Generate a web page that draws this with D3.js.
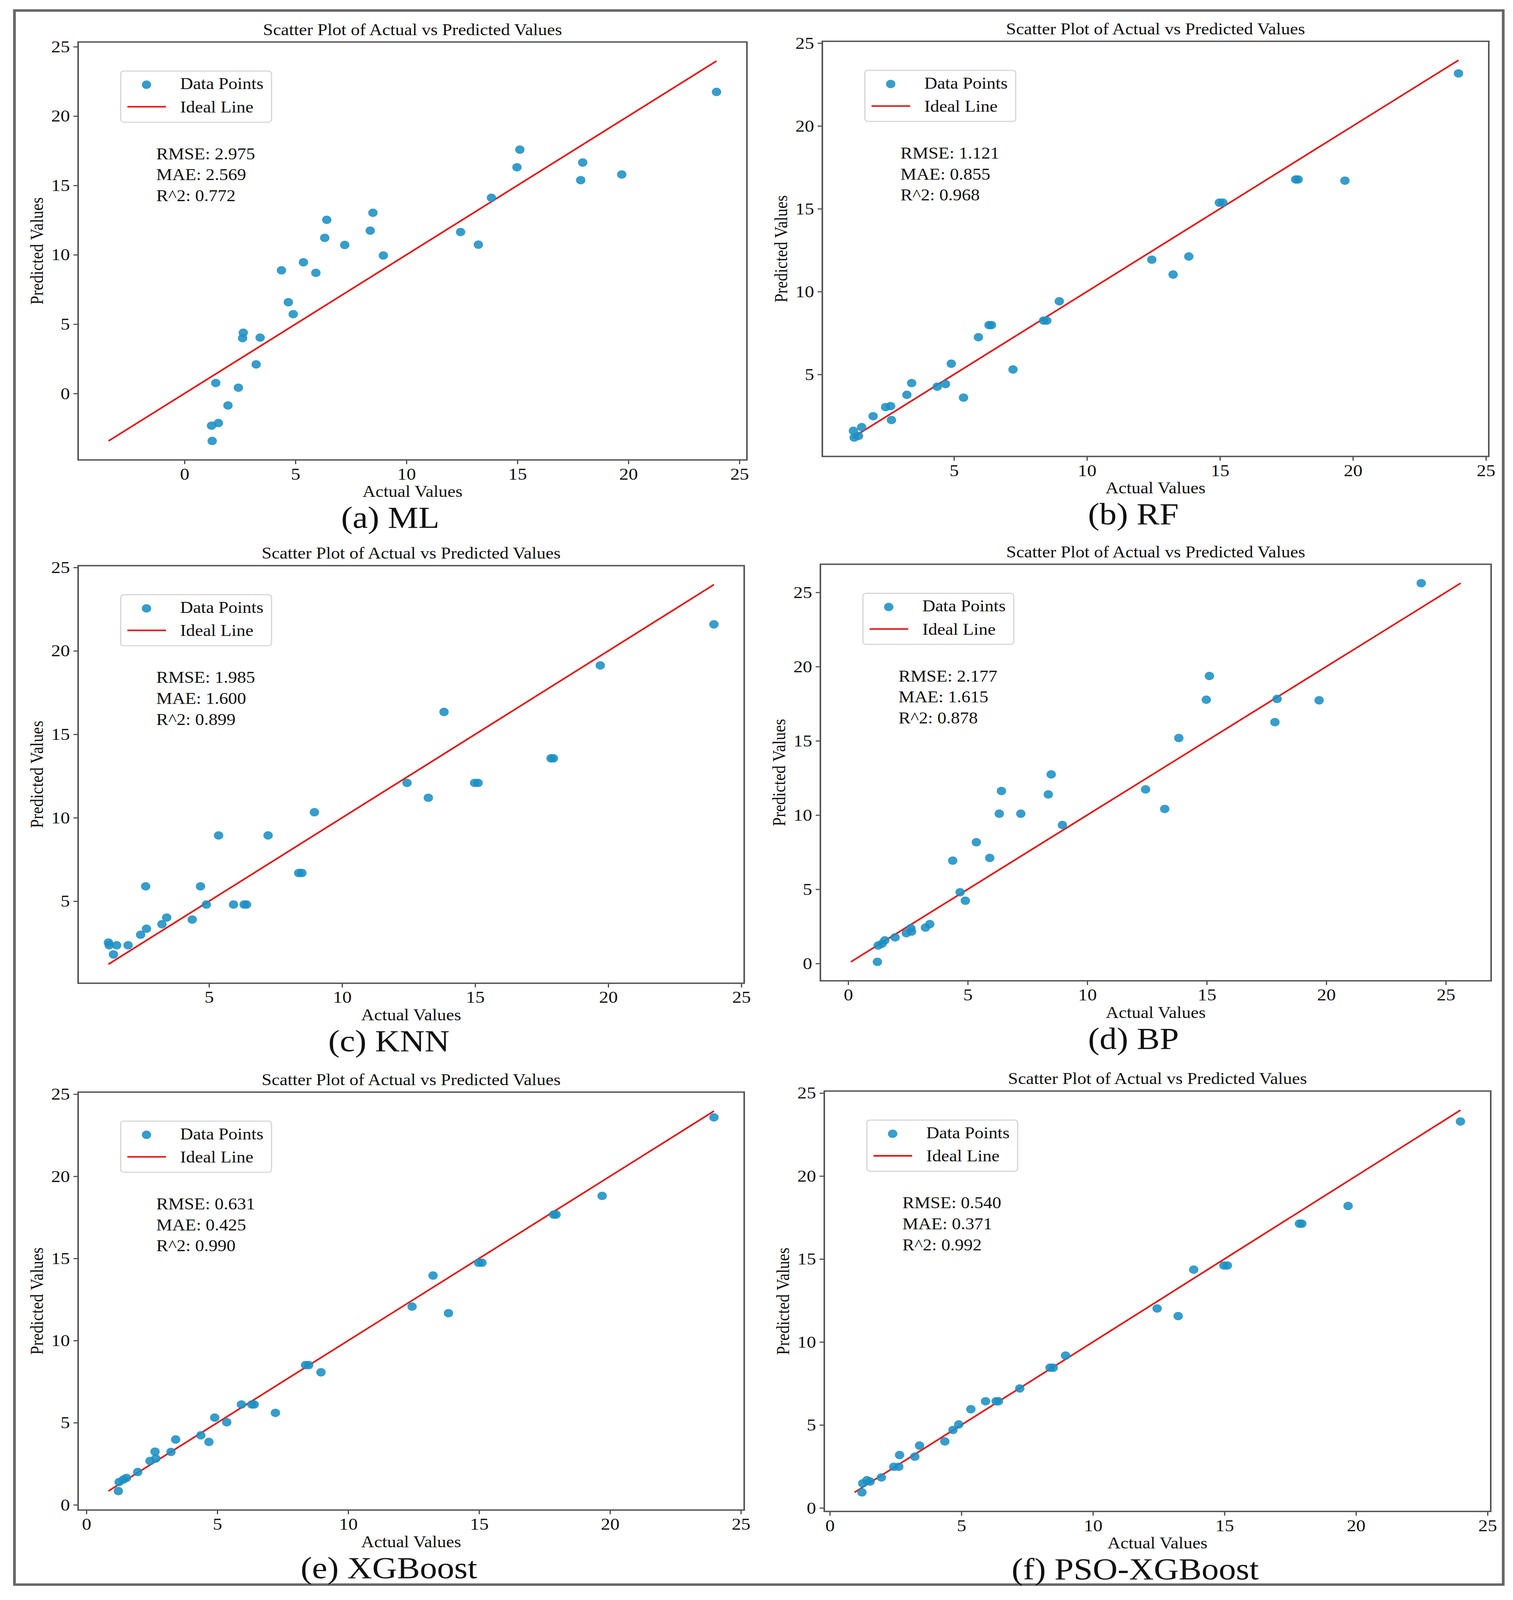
<!DOCTYPE html>
<html>
<head>
<meta charset="utf-8">
<script src="https://cdn.jsdelivr.net/npm/d3@7"></script>
<style>
  html, body { margin: 0; padding: 0; background: #fff; overflow: hidden; }
  svg { display: block; }
  text { font-family: "Liberation Serif", "Times New Roman", serif; fill: #111; }
</style>
</head>
<body>
<div id="chart"></div>
<script>
// Test-set actual values (shared by all six models)
const actual = [1.22, 1.25, 1.41, 1.53, 1.96, 2.43, 2.62, 2.65, 3.23, 3.41,
  4.37, 4.68, 4.90, 5.36, 5.92, 6.32, 6.41, 7.22, 8.37, 8.49,
  8.96, 12.44, 13.24, 13.83, 14.98, 15.11, 17.85, 17.94, 19.70, 23.97];

// Predicted values per model, same order as actual
const predML = [-2.32, -3.42, 0.76, -2.13, -0.86, 0.42, 3.99, 4.38, 2.10, 4.03,
  8.88, 6.58, 5.72, 9.46, 8.70, 11.22, 12.52, 10.71, 11.74, 13.03,
  9.95, 11.64, 10.73, 14.11, 16.31, 17.58, 15.38, 16.65, 15.79, 21.74];
const predRF = [1.60, 1.19, 1.29, 1.82, 2.48, 3.03, 3.09, 2.25, 3.77, 4.48,
  4.26, 4.42, 5.65, 3.60, 7.25, 7.98, 7.98, 5.30, 8.25, 8.25,
  9.42, 11.93, 11.03, 12.12, 15.37, 15.37, 16.77, 16.77, 16.70, 23.17];
const predKNN = [2.52, 2.36, 1.81, 2.36, 2.36, 2.99, 5.89, 3.35, 3.62, 4.02,
  3.90, 5.89, 4.80, 8.94, 4.80, 4.80, 4.80, 8.94, 6.69, 6.69,
  10.33, 12.09, 11.20, 16.34, 12.09, 12.09, 13.56, 13.56, 19.13, 21.59];
const predBP = [0.11, 1.21, 1.33, 1.56, 1.76, 2.04, 2.38, 2.15, 2.42, 2.65,
  6.93, 4.80, 4.23, 8.17, 7.11, 10.09, 11.62, 10.09, 11.39, 12.74,
  9.33, 11.73, 10.41, 15.19, 17.77, 19.37, 16.26, 17.82, 17.73, 25.62];
const predXGB = [0.84, 1.39, 1.54, 1.64, 2.00, 2.67, 3.24, 2.82, 3.22, 3.98,
  4.23, 3.83, 5.31, 5.03, 6.11, 6.11, 6.11, 5.60, 8.51, 8.51,
  8.07, 12.07, 13.96, 11.67, 14.74, 14.74, 17.67, 17.67, 18.81, 23.59];
const predPSO = [0.94, 1.48, 1.67, 1.59, 1.84, 2.48, 2.48, 3.19, 3.09, 3.76,
  4.01, 4.70, 5.03, 5.95, 6.43, 6.43, 6.43, 7.20, 8.45, 8.45,
  9.18, 12.02, 11.56, 14.36, 14.61, 14.61, 17.13, 17.13, 18.20, 23.29];

const captions = ['(a) ML', '(b) RF', '(c) KNN', '(d) BP', '(e) XGBoost', '(f) PSO-XGBoost'];
const rmse = ['2.975', '1.121', '1.985', '2.177', '0.631', '0.540'];
const mae = ['2.569', '0.855', '1.600', '1.615', '0.425', '0.371'];
const r2 = ['0.772', '0.968', '0.899', '0.878', '0.990', '0.992'];
const tickVals = [0, 5, 10, 15, 20, 25];

const predictions = [predML, predRF, predKNN, predBP, predXGB, predPSO];

// Axes frames (left, top, right, bottom) in figure pixels
const frames = [
  [200, 120, 1912, 1314],
  [2105, 118, 3811, 1304],
  [200, 1616, 1905, 2809],
  [2100, 1612, 3817, 2802],
  [200, 3120, 1905, 4314],
  [2110, 3117, 3816, 4318]
];

const W = 3873, H = 4571;
const dotColor = '#1b8fc4';
const lineColor = '#e01818';

// Stretch the figure over whatever viewport we get
const vw = window.innerWidth || W;
const vh = window.innerHeight || H;

const svg = d3.select('#chart').append('svg')
  .attr('width', vw)
  .attr('height', vh)
  .attr('viewBox', `0 0 ${W} ${H}`)
  .attr('preserveAspectRatio', 'none');

svg.append('rect').attr('width', W).attr('height', H).attr('fill', '#fff');

// Outer border around the whole figure
svg.append('rect')
  .attr('x', 37).attr('y', 30)
  .attr('width', 3848 - 37).attr('height', 4527 - 30)
  .attr('fill', 'none')
  .attr('stroke', '#666')
  .attr('stroke-width', 7);

predictions.forEach((pred, i) => drawPanel(i, pred));

function drawPanel(i, pred) {
  const [left, top, right, bottom] = frames[i];
  const lo = Math.min(d3.min(actual), d3.min(pred));
  const hi = Math.max(d3.max(actual), d3.max(pred));
  const pad = (hi - lo) * 0.05;

  const x = d3.scaleLinear().domain([lo - pad, hi + pad]).range([left, right]);
  const y = d3.scaleLinear().domain([lo - pad, hi + pad]).range([bottom, top]);
  const ticks = tickVals.filter(t => t >= x.domain()[0] && t <= x.domain()[1]);

  const g = svg.append('g');

  // Ideal line
  g.append('path')
    .datum([lo, hi])
    .attr('d', d3.line().x(d => x(d)).y(d => y(d)))
    .attr('stroke', lineColor)
    .attr('stroke-width', 4.5)
    .attr('fill', 'none');

  // Data points
  g.append('g')
    .selectAll('circle')
    .data(actual.map((a, k) => [a, pred[k]]))
    .join('circle')
    .attr('cx', d => x(d[0]))
    .attr('cy', d => y(d[1]))
    .attr('r', 12)
    .attr('fill', dotColor)
    .attr('fill-opacity', 0.88);

  // Axes
  const xAxis = g.append('g')
    .attr('transform', `translate(0,${bottom})`)
    .call(d3.axisBottom(x).tickValues(ticks).tickFormat(d3.format('d'))
      .tickSize(12).tickPadding(10).tickSizeOuter(0));
  const yAxis = g.append('g')
    .attr('transform', `translate(${left},0)`)
    .call(d3.axisLeft(y).tickValues(ticks).tickFormat(d3.format('d'))
      .tickSize(12).tickPadding(9).tickSizeOuter(0));
  [xAxis, yAxis].forEach(ax => {
    ax.select('.domain').remove();
    ax.selectAll('.tick line').attr('stroke', '#444').attr('stroke-width', 3);
    ax.selectAll('.tick text')
      .attr('font-size', 48)
      .attr('font-family', '"Liberation Serif", serif')
      .attr('fill', '#111');
  });

  // Frame
  g.append('rect')
    .attr('x', left).attr('y', top)
    .attr('width', right - left).attr('height', bottom - top)
    .attr('fill', 'none')
    .attr('stroke', '#555')
    .attr('stroke-width', 4);

  const cx = (left + right) / 2;

  g.append('text')
    .attr('x', cx).attr('y', top - 20)
    .attr('text-anchor', 'middle')
    .attr('font-size', 46)
    .text('Scatter Plot of Actual vs Predicted Values');

  g.append('text')
    .attr('x', cx).attr('y', bottom + 106)
    .attr('text-anchor', 'middle')
    .attr('font-size', 46)
    .text('Actual Values');

  g.append('text')
    .attr('transform', `translate(${left - 90},${(top + bottom) / 2}) rotate(-90)`)
    .attr('text-anchor', 'middle')
    .attr('font-size', 46)
    .text('Predicted Values');

  // Legend
  const lg = g.append('g').attr('transform', `translate(${left + 109},${top + 83})`);
  lg.append('rect')
    .attr('width', 386).attr('height', 146)
    .attr('rx', 8)
    .attr('fill', '#fff')
    .attr('stroke', '#d4d4d4')
    .attr('stroke-width', 3);
  lg.append('circle')
    .attr('cx', 66).attr('cy', 39).attr('r', 12)
    .attr('fill', dotColor).attr('fill-opacity', 0.88);
  lg.append('line')
    .attr('x1', 17).attr('x2', 116).attr('y1', 102).attr('y2', 102)
    .attr('stroke', lineColor).attr('stroke-width', 4.5);
  lg.append('text').attr('x', 152).attr('y', 52).attr('font-size', 46).text('Data Points');
  lg.append('text').attr('x', 152).attr('y', 118).attr('font-size', 46).text('Ideal Line');

  // Metrics
  const stats = [`RMSE: ${rmse[i]}`, `MAE: ${mae[i]}`, `R^2: ${r2[i]}`];
  g.append('g')
    .selectAll('text')
    .data(stats)
    .join('text')
    .attr('x', left + 200)
    .attr('y', (d, k) => top + 335 + k * 60)
    .attr('font-size', 46)
    .text(d => d);

  // Caption below panel
  g.append('text')
    .attr('x', cx - 57).attr('y', bottom + 194)
    .attr('text-anchor', 'middle')
    .attr('font-size', 88)
    .text(captions[i]);
}
</script>
</body>
</html>
